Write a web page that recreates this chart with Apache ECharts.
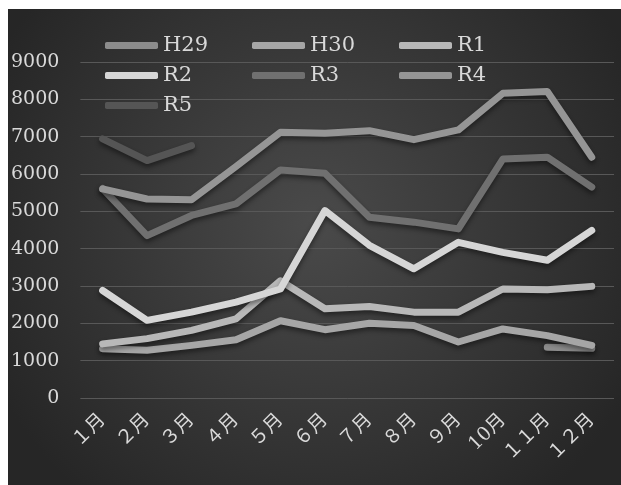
<!DOCTYPE html>
<html>
<head>
<meta charset="utf-8">
<title>月別推移</title>
<script src="https://cdn.jsdelivr.net/npm/echarts@6/dist/echarts.min.js"></script>
<style>
  body { margin: 0; background: #fff; }
  #chart { position: absolute; left: 8px; top: 9px; width: 613px; height: 476px; }
</style>
</head>
<body>
<div id="chart"></div>
<script>
// 月ラベル
var months = ['１月', '２月', '３月', '４月', '５月', '６月', '７月', '８月', '９月', '10月', '１１月', '１２月'];
var yTicks = [0, 9000, 1000];   // min, max, interval

// 年度ごとの値
var h29 = [null, null, null, null, null, null, null, null, null, null, 1360, 1330];
var h30 = [1320, 1280, 1410, 1560, 2070, 1830, 2000, 1940, 1500, 1850, 1670, 1410];
var r1  = [1450, 1590, 1810, 2120, 3140, 2390, 2450, 2300, 2300, 2920, 2900, 2990];
var r2  = [2880, 2080, 2300, 2570, 2920, 5020, 4090, 3460, 4170, 3900, 3690, 4490];
var r3  = [5610, 4350, 4890, 5200, 6110, 6020, 4840, 4710, 4530, 6400, 6450, 5650];
var r4  = [5600, 5330, 5310, 6200, 7120, 7090, 7160, 6920, 7180, 8160, 8210, 6450];
var r5  = [6940, 6360, 6760];

var names  = ['H29', 'H30', 'R1', 'R2', 'R3', 'R4', 'R5'];
var values = [h29, h30, r1, r2, r3, r4, r5];
var colors = ['#8c8c8c', '#a6a6a6', '#b8b8b8', '#d6d6d6', '#707070', '#959595', '#555555'];

var chart = echarts.init(document.getElementById('chart'));

var series = [];
for (var i = 0; i < names.length; i++) {
  series.push({
    name: names[i],
    type: 'line',
    data: values[i],
    color: colors[i],
    showSymbol: false,
    symbol: 'none',
    connectNulls: false,
    animation: false,
    lineStyle: {
      width: 7,
      cap: 'round',
      join: 'round',
      shadowBlur: 5,
      shadowOffsetY: 3,
      shadowColor: 'rgba(0,0,0,0.45)'
    }
  });
}

var option = {
  backgroundColor: {
    type: 'radial', x: 0.5, y: 0.45, r: 0.75,
    colorStops: [
      { offset: 0, color: '#4a4a4a' },
      { offset: 1, color: '#262626' }
    ]
  },
  legend: {
    left: 92,
    top: 21,
    width: 440,
    itemWidth: 53,
    itemHeight: 7,
    itemGap: 9,
    icon: 'roundRect',
    data: names,
    textStyle: {
      color: '#d9d9d9',
      fontFamily: 'DejaVu Serif',
      fontSize: 21,
      width: 80,
      lineHeight: 20
    }
  },
  grid: { left: 71, right: 7, top: 53, bottom: 87 },
  xAxis: {
    type: 'category',
    data: months,
    boundaryGap: true,
    axisLine: { show: false },
    axisTick: { show: false },
    axisLabel: {
      rotate: 45,
      margin: 19,
      interval: 0,
      color: '#d9d9d9',
      fontSize: 19,
      fontFamily: 'DejaVu Serif, Noto Sans CJK JP'
    }
  },
  yAxis: {
    type: 'value',
    min: yTicks[0],
    max: yTicks[1],
    interval: yTicks[2],
    axisLine: { show: false },
    axisTick: { show: false },
    axisLabel: {
      margin: 21,
      color: '#d9d9d9',
      fontSize: 19,
      fontFamily: 'DejaVu Serif',
      formatter: function (v) { return String(v); }
    },
    splitLine: { lineStyle: { color: '#585858', width: 1 } }
  },
  series: series
};
chart.setOption(option);
</script>
</body>
</html>
